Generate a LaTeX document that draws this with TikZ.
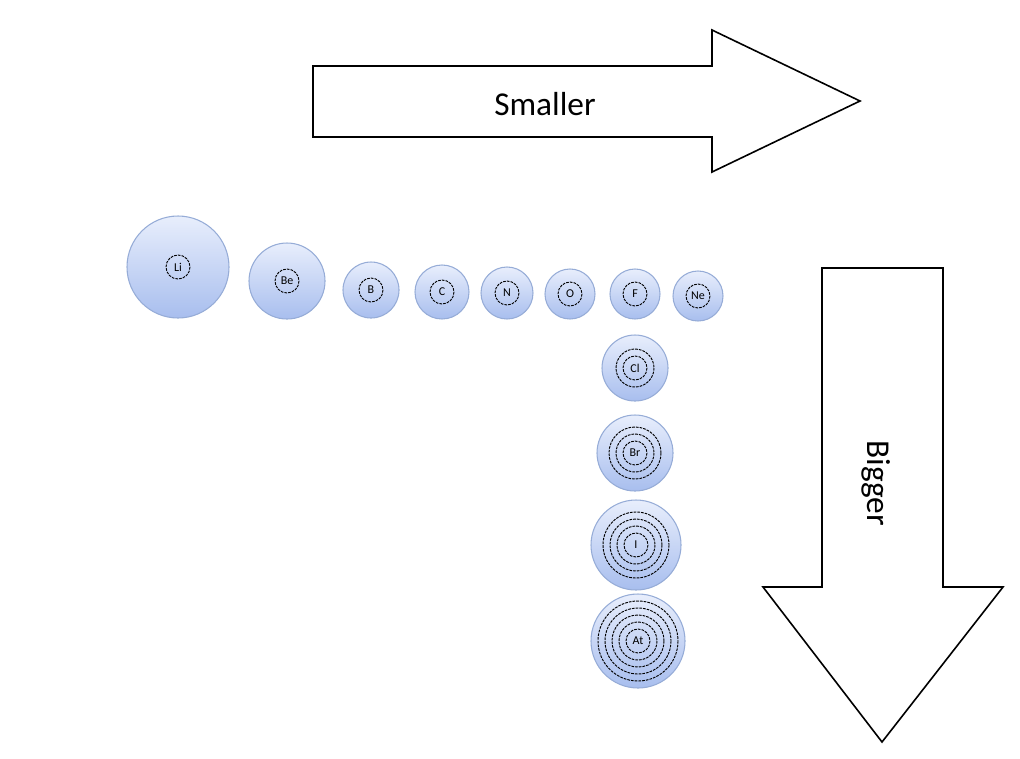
\documentclass[tikz,border=0pt]{standalone}
\usepackage{fontspec}
\setmainfont{Carlito}
\begin{document}
\begin{tikzpicture}[x=0.75pt,y=-0.75pt,
  atom/.style={circle,draw={rgb,255:red,150;green,172;blue,215},line width=0.8pt,top color={rgb,255:red,232;green,238;blue,252},bottom color={rgb,255:red,168;green,190;blue,238},inner sep=0pt},
  shell/.style={draw=black,dashed,line width=0.7pt,dash pattern=on 2pt off 0.8pt},
  bigarrow/.style={draw=black,line width=1.2pt,fill=white}]
\useasboundingbox (0,0) rectangle (1020,758);
\draw[bigarrow] (313,66) -- (712,66) -- (712,30) -- (860,101) -- (712,172) -- (712,137) -- (313,137) -- cycle;
\node (sm) at (545,104) {\fontsize{25}{28}\selectfont Smaller};
\draw[bigarrow] (822,268) -- (943,268) -- (943,587) -- (1003,587) -- (882,742) -- (763,587) -- (822,587) -- cycle;
\node[rotate=-90] (bg) at (876,483) {\fontsize{25}{28}\selectfont Bigger};
\foreach \n/\x/\y/\r/\s in {Li/178/267/51/1,Be/287/281/38/1,B/371/290/28/1,C/442/292/27/1,N/507/293/26/1,O/570/294/25/1,F/635/294/25/1,Ne/698/296/25/1,Cl/635/368/33/2,Br/635/453/38/3,I/636/545/45/4,At/638/641/47/5}{
  \node[atom,minimum size=2*\r*0.75pt] (\n) at (\x,\y) {};
  \foreach \k in {1,...,\s}{\draw[shell] (\n.center) circle ({12+(\k-1)*7});}
  \node[font=\fontsize{9}{10}\selectfont] (\n-l) at (\n.center) {\n};
}
\end{tikzpicture}
\end{document}
